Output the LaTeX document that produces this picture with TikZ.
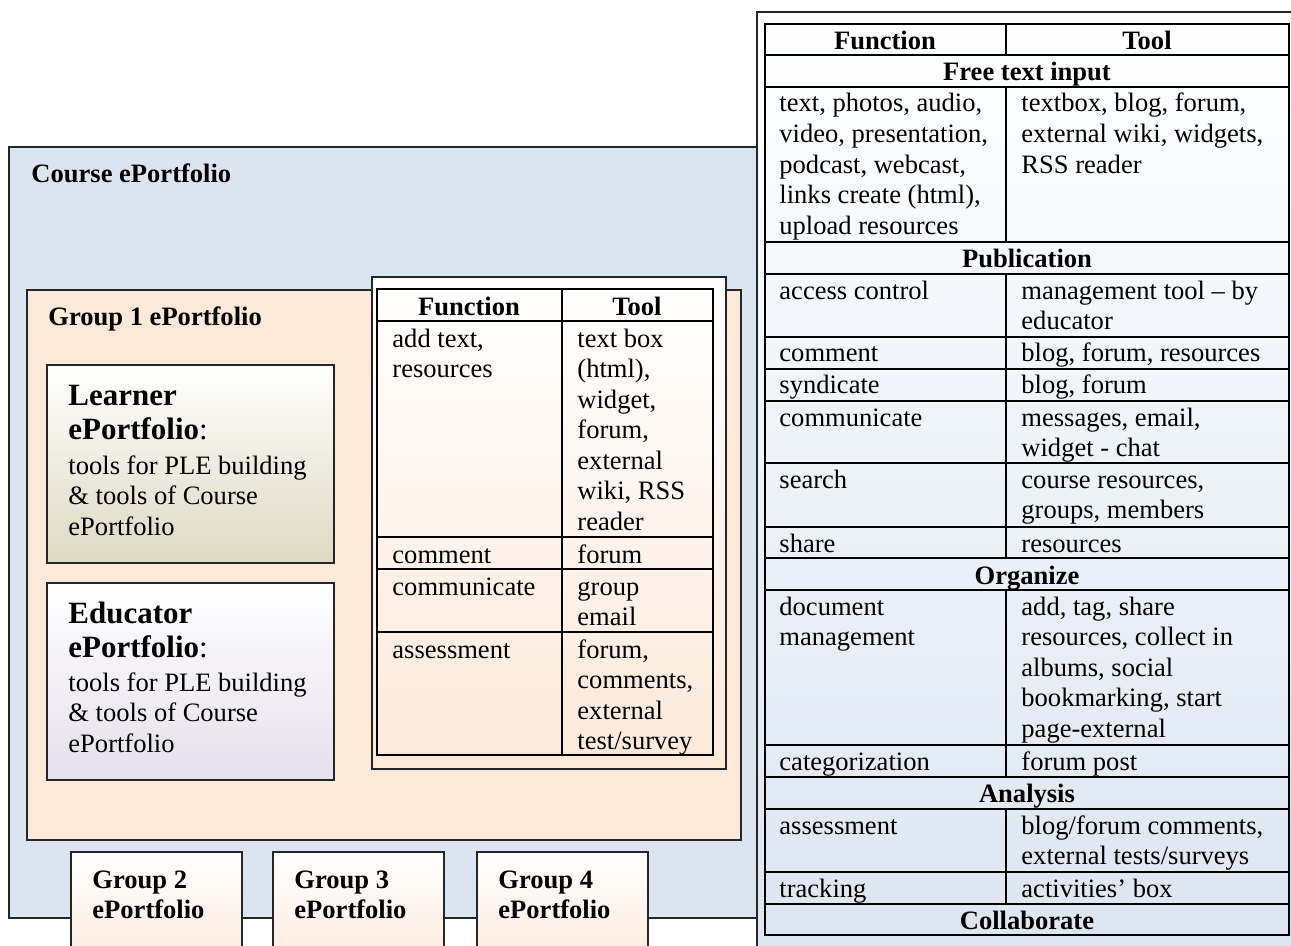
\documentclass[tikz,border=0pt]{standalone}
\usepackage{fontspec}
\setmainfont{Liberation Serif}
\definecolor{courseblue}{RGB}{219,229,241}
\definecolor{grouppeach}{RGB}{252,233,218}
\definecolor{learnerkhaki}{RGB}{221,217,195}
\definecolor{educatorlilac}{RGB}{229,224,236}
\newcommand{\cellfont}{\fontsize{12}{13.8}\selectfont}
\newcommand{\bigfont}{\fontsize{14}{15.8}\selectfont}

\tikzset{
    pfbox/.style={draw=black!85, line width=0.9pt},
    tabline/.style={draw=black, line width=0.9pt},
    cell/.style={anchor=base west, inner sep=0pt, font=\cellfont, align=left,
        execute at begin node={\spaceskip=0pt\xspaceskip=0pt}},
    headcell/.style={anchor=base, inner sep=0pt, font=\cellfont\bfseries},
    boxtitle/.style={cell, font=\cellfont\bfseries},
}

\begin{document}
\begin{tikzpicture}[x=0.452pt, y=-0.452pt]
    \useasboundingbox (0,0) rectangle (1291,946);
    \clip (0,0) rectangle (1291,946);

    % Course ePortfolio
    \draw[pfbox, fill=courseblue] (9,147) rectangle (760,918);
    \node[boxtitle, text width=130pt] (course) at (31,183) {Course ePortfolio};

    % Group 1 ePortfolio
    \draw[pfbox, fill=grouppeach] (27,290) rectangle (741,840);
    \node[boxtitle, text width=130pt] (group1) at (48,325) {Group 1 ePortfolio};

    % Learner and Educator ePortfolio
    \draw[pfbox, top color=white, bottom color=learnerkhaki] (47,365) rectangle (334,563);
    \node[cell, font=\bigfont, text width=118pt] (learner) at (68,405)
        {\textbf{Learner}\\\textbf{ePortfolio}:};
    \node[cell, text width=118pt] (learnerbody) at (68,474)
        {tools for PLE building\\\& tools of Course\\ePortfolio};
    \draw[pfbox, top color=white, bottom color=educatorlilac] (47,583) rectangle (334,780);
    \node[cell, font=\bigfont, text width=118pt] (educator) at (68,623)
        {\textbf{Educator}\\\textbf{ePortfolio}:};
    \node[cell, text width=118pt] (educatorbody) at (68,691)
        {tools for PLE building\\\& tools of Course\\ePortfolio};

    % Group 1 tools table
    \draw[pfbox, top color=white, bottom color=grouppeach] (372,277) rectangle (726,769);
    \draw[tabline] (377,289) rectangle (713,755);
    \foreach \y in {321,537,569,632}
        \draw[tabline] (377,\y) -- (713,\y);
    \draw[tabline] (562,289) -- (562,755);
    \node[headcell] (sfunc) at (469,315) {Function};
    \node[headcell] (stool) at (637,315) {Tool};
    \node[cell, text width=75pt] (sf1) at (392,347) {add text,\\resources};
    \node[cell, text width=60pt] (st1) at (577,347)
        {text box\\(html),\\widget,\\forum,\\external\\wiki, RSS\\reader};
    \node[cell, text width=75pt] (sf2) at (392,563) {comment};
    \node[cell, text width=60pt] (st2) at (577,563) {forum};
    \node[cell, text width=75pt] (sf3) at (392,595) {communicate};
    \node[cell, text width=60pt] (st3) at (577,595) {group\\email};
    \node[cell, text width=75pt] (sf4) at (392,658) {assessment};
    \node[cell, text width=60pt] (st4) at (577,658) {forum,\\comments,\\external\\test/survey};

    % Groups 2 to 4
    \foreach \n/\x in {2/71, 3/273, 4/477} {
        \draw[pfbox, top color=white, bottom color=grouppeach] (\x,852) rectangle (\x+171,975);
        \node[boxtitle, text width=65pt] (group\n) at (\x+21,888) {Group \n\\ePortfolio};
    }

    % Course tools table
    \draw[pfbox, top color=white, bottom color=courseblue] (757,12) rectangle (1310,975);
    \draw[tabline] (765,24) rectangle (1289,935);
    \foreach \y in {55,87,242,274,337,369,401,463,527,558,590,745,777,809,872,904}
        \draw[tabline] (765,\y) -- (1289,\y);
    \foreach \ya/\yb in {24/55, 87/242, 274/558, 590/777, 809/904}
        \draw[tabline] (1006,\ya) -- (1006,\yb);
    \node[headcell] (rfunc) at (885,50) {Function};
    \node[headcell] (rtool) at (1147,50) {Tool};
    \node[headcell] (freetext) at (1027,81) {Free text input};
    \node[cell, text width=100pt] (rf1) at (779,112)
        {text, photos, audio,\\video, presentation,\\podcast, webcast,\\links create (html),\\upload resources};
    \node[cell, text width=115pt] (rt1) at (1021,112)
        {textbox, blog, forum,\\external wiki, widgets,\\RSS reader};
    \node[headcell] (publication) at (1027,268) {Publication};
    \node[cell, text width=100pt] (rf2) at (779,299) {access control};
    \node[cell, text width=115pt] (rt2) at (1021,299) {management tool -- by\\educator};
    \node[cell, text width=100pt] (rf3) at (779,362) {comment};
    \node[cell, text width=115pt] (rt3) at (1021,362) {blog, forum, resources};
    \node[cell, text width=100pt] (rf4) at (779,394) {syndicate};
    \node[cell, text width=115pt] (rt4) at (1021,394) {blog, forum};
    \node[cell, text width=100pt] (rf5) at (779,426) {communicate};
    \node[cell, text width=115pt] (rt5) at (1021,426) {messages, email,\\widget - chat};
    \node[cell, text width=100pt] (rf6) at (779,488) {search};
    \node[cell, text width=115pt] (rt6) at (1021,488) {course resources,\\groups, members};
    \node[cell, text width=100pt] (rf7) at (779,552) {share};
    \node[cell, text width=115pt] (rt7) at (1021,552) {resources};
    \node[headcell] (organize) at (1027,584) {Organize};
    \node[cell, text width=100pt] (rf8) at (779,615) {document\\management};
    \node[cell, text width=115pt] (rt8) at (1021,615)
        {add, tag, share\\resources, collect in\\albums, social\\bookmarking, start\\page-external};
    \node[cell, text width=100pt] (rf9) at (779,770) {categorization};
    \node[cell, text width=115pt] (rt9) at (1021,770) {forum post};
    \node[headcell] (analysis) at (1027,802) {Analysis};
    \node[cell, text width=100pt] (rf10) at (779,834) {assessment};
    \node[cell, text width=115pt] (rt10) at (1021,834) {blog/forum comments,\\external tests/surveys};
    \node[cell, text width=100pt] (rf11) at (779,897) {tracking};
    \node[cell, text width=115pt] (rt11) at (1021,897) {activities’ box};
    \node[headcell] (collaborate) at (1027,929) {Collaborate};
\end{tikzpicture}
\end{document}
